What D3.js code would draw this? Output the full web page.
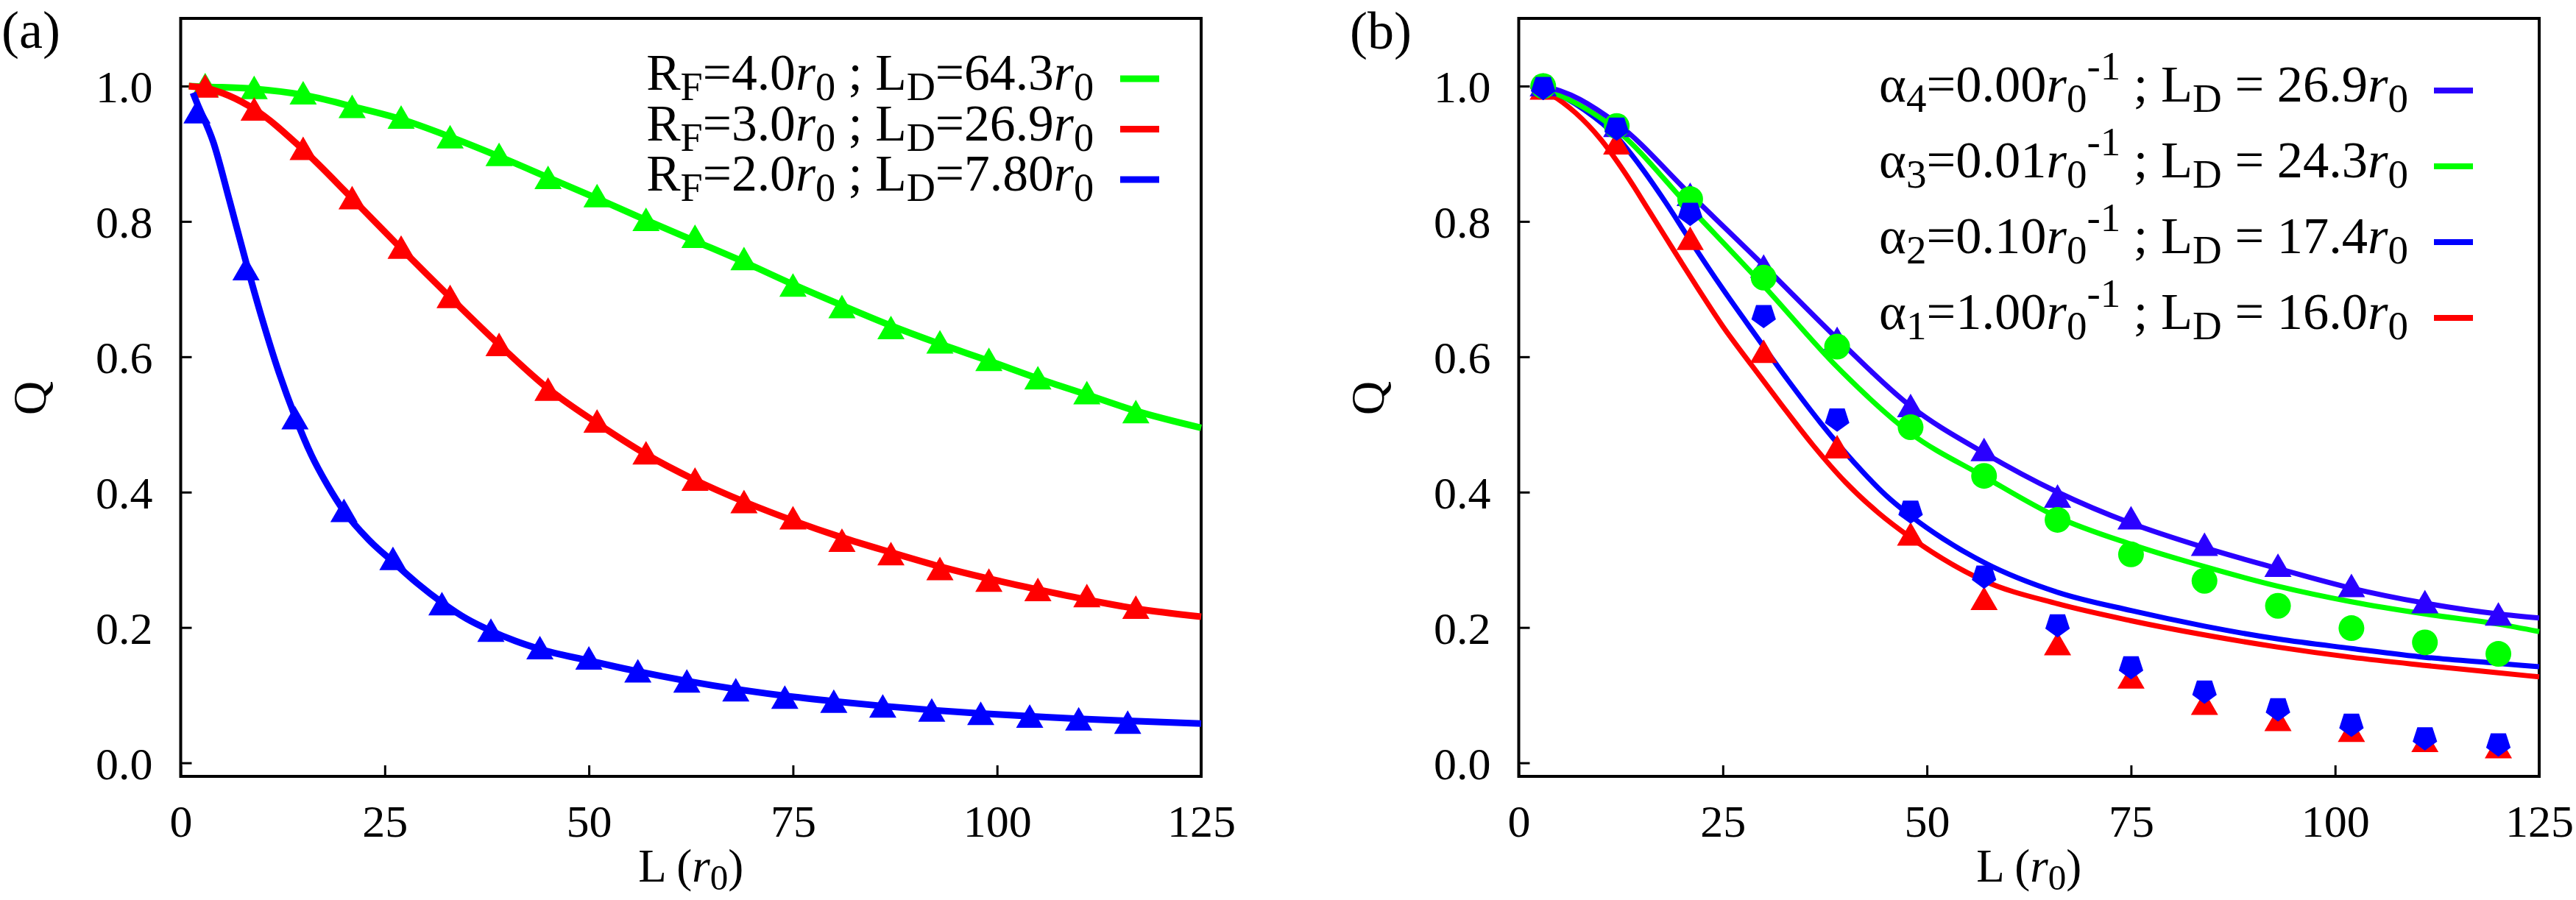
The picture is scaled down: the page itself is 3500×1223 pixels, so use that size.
<!DOCTYPE html>
<html>
<head>
<meta charset="utf-8">
<script src="https://cdn.jsdelivr.net/npm/d3@7"></script>
<style>
  body { margin: 0; background: #fff; }
  svg { display: block; }
  text { font-family: "Liberation Serif", "Times New Roman", serif; fill: #000; }
</style>
</head>
<body>
<script>
// ---- axes ----
const xTicks = [0, 25, 50, 75, 100, 125];
const yTicks = [0.0, 0.2, 0.4, 0.6, 0.8, 1.0];

// ---- panel (a): markers ----
const aL = [3, 9, 15, 21, 27, 33, 39, 45, 51, 57, 63, 69, 75, 81, 87, 93, 99, 105, 111, 117];
const aBlueL = [2, 8, 14, 20, 26, 32, 38, 44, 50, 56, 62, 68, 74, 80, 86, 92, 98, 104, 110, 116];
const aGreenQ = [1.0, 0.996, 0.988, 0.968, 0.952, 0.923, 0.897, 0.863, 0.836, 0.801, 0.776, 0.743, 0.704, 0.672, 0.641, 0.620, 0.594, 0.567, 0.545, 0.517];
const aRedQ = [0.998, 0.964, 0.906, 0.833, 0.760, 0.687, 0.616, 0.550, 0.503, 0.456, 0.417, 0.384, 0.360, 0.327, 0.307, 0.285, 0.268, 0.254, 0.245, 0.228];
const aBlueQ = [0.960, 0.728, 0.508, 0.371, 0.300, 0.233, 0.194, 0.168, 0.153, 0.134, 0.119, 0.106, 0.095, 0.089, 0.082, 0.076, 0.071, 0.067, 0.063, 0.058];

// ---- panel (a): fitted curves ----
const aFitL = [1, 3, 9, 15, 21, 27, 33, 39, 45, 51, 57, 63, 69, 75, 81, 87, 93, 99, 105, 111, 117, 125];
const aGreenFit = [1.0, 0.999, 0.996, 0.987, 0.970, 0.951, 0.925, 0.896, 0.865, 0.834, 0.802, 0.771, 0.740, 0.707, 0.676, 0.646, 0.619, 0.594, 0.568, 0.544, 0.520, 0.495];
const aRedFit = [1.0, 0.997, 0.966, 0.906, 0.834, 0.760, 0.688, 0.618, 0.553, 0.502, 0.456, 0.418, 0.386, 0.358, 0.333, 0.311, 0.290, 0.272, 0.256, 0.241, 0.228, 0.216];
const aBlueFitL = [1.5, 2, 4, 6, 8, 10, 12, 14, 16, 18, 20, 23, 26, 29, 32, 35, 38, 41, 44, 50, 56, 62, 68, 74, 80, 86, 92, 98, 104, 110, 116, 125];
const aBlueFit = [0.99, 0.975, 0.917, 0.83, 0.74, 0.655, 0.578, 0.512, 0.455, 0.41, 0.372, 0.33, 0.297, 0.265, 0.237, 0.213, 0.195, 0.18, 0.168, 0.151, 0.135, 0.121, 0.109, 0.099, 0.091, 0.084, 0.078, 0.073, 0.069, 0.065, 0.062, 0.058];

// ---- panel (b): markers ----
const bL = [3, 12, 21, 30, 39, 48, 57, 66, 75, 84, 93, 102, 111, 120];
const bA4Q = [1.0, 0.940, 0.838, 0.732, 0.625, 0.526, 0.461, 0.392, 0.360, 0.321, 0.290, 0.260, 0.236, 0.218];
const bA3Q = [1.0, 0.941, 0.833, 0.717, 0.615, 0.496, 0.424, 0.359, 0.308, 0.269, 0.232, 0.199, 0.178, 0.161];
const bA2Q = [0.996, 0.936, 0.810, 0.659, 0.506, 0.370, 0.274, 0.202, 0.140, 0.104, 0.078, 0.055, 0.035, 0.026];
const bA1Q = [0.995, 0.914, 0.773, 0.606, 0.465, 0.336, 0.241, 0.174, 0.125, 0.086, 0.062, 0.046, 0.031, 0.022];

// ---- panel (b): fitted curves ----
const bA4FitL = [2, 3, 12, 21, 30, 39, 48, 57, 66, 75, 84, 93, 102, 111, 120, 125];
const bA4Fit = [1.0, 0.999, 0.945, 0.840, 0.735, 0.627, 0.527, 0.458, 0.400, 0.354, 0.318, 0.287, 0.258, 0.236, 0.220, 0.214];
const bA3FitL = [2, 3, 12, 21, 30, 39, 48, 57, 66, 75, 84, 93, 102, 111, 120, 125];
const bA3Fit = [1.0, 0.996, 0.935, 0.820, 0.705, 0.585, 0.487, 0.423, 0.363, 0.323, 0.290, 0.261, 0.238, 0.220, 0.205, 0.194];
const bA2FitL = [1.5, 4, 8, 12, 15, 18, 21, 25, 29, 33, 37, 41, 45, 48, 52, 57, 66, 75, 84, 93, 102, 111, 120, 125];
const bA2Fit = [1.0, 0.992, 0.965, 0.925, 0.880, 0.828, 0.772, 0.700, 0.632, 0.565, 0.502, 0.445, 0.395, 0.365, 0.331, 0.296, 0.252, 0.225, 0.202, 0.183, 0.169, 0.156, 0.147, 0.142];
const bA1FitL = [1.5, 4, 7, 10, 13, 16, 19, 22, 25, 28.5, 32, 36, 40, 44, 48, 57, 66, 75, 84, 93, 102, 111, 120, 125];
const bA1Fit = [1.0, 0.987, 0.960, 0.922, 0.872, 0.815, 0.757, 0.700, 0.645, 0.588, 0.532, 0.470, 0.415, 0.370, 0.333, 0.269, 0.235, 0.210, 0.189, 0.171, 0.156, 0.144, 0.133, 0.127];

// ---- legend labels ----
const aLegend = [
  [["R"], ["F", "sub"], ["=4.0"], ["r", "it"], ["0", "sub"], [" ; L"], ["D", "sub"], ["=64.3"], ["r", "it"], ["0", "sub"]],
  [["R"], ["F", "sub"], ["=3.0"], ["r", "it"], ["0", "sub"], [" ; L"], ["D", "sub"], ["=26.9"], ["r", "it"], ["0", "sub"]],
  [["R"], ["F", "sub"], ["=2.0"], ["r", "it"], ["0", "sub"], [" ; L"], ["D", "sub"], ["=7.80"], ["r", "it"], ["0", "sub"]]
];
const bLegend = [
  [["α"], ["4", "sub"], ["=0.00"], ["r", "it"], ["0", "sub"], ["-1", "sup"], [" ; L"], ["D", "sub"], [" = 26.9"], ["r", "it"], ["0", "sub"]],
  [["α"], ["3", "sub"], ["=0.01"], ["r", "it"], ["0", "sub"], ["-1", "sup"], [" ; L"], ["D", "sub"], [" = 24.3"], ["r", "it"], ["0", "sub"]],
  [["α"], ["2", "sub"], ["=0.10"], ["r", "it"], ["0", "sub"], ["-1", "sup"], [" ; L"], ["D", "sub"], [" = 17.4"], ["r", "it"], ["0", "sub"]],
  [["α"], ["1", "sub"], ["=1.00"], ["r", "it"], ["0", "sub"], ["-1", "sup"], [" ; L"], ["D", "sub"], [" = 16.0"], ["r", "it"], ["0", "sub"]]
];

const GREEN = "#00ff00", RED = "#ff0000", BLUE = "#0000ff", VIOLET = "#2a00ff";

const svg = d3.select("body").append("svg")
  .attr("width", 3500)
  .attr("height", 1223)
  .attr("viewBox", [0, 0, 3500, 1223]);

// writes sub/superscripted pieces into a text element
function richText(text, parts, subShift = 14) {
  let shift = 0;
  parts.forEach(([t, kind]) => {
    const target = kind === "sub" ? subShift : kind === "sup" ? -30 : 0;
    const ts = text.append("tspan").attr("dy", target - shift).text(t);
    shift = target;
    if (kind === "sub" || kind === "sup") ts.attr("font-size", "0.78em");
    if (kind === "it") ts.attr("font-style", "italic");
  });
}

const triangle = "M0,-18L18.5,14L-18.5,14Z";
const pentagon = (() => {
  const r = 17.5, pts = [];
  for (let k = 0; k < 5; k++) {
    const a = Math.PI / 2 + k * 2 * Math.PI / 5;
    pts.push([r * Math.cos(a), r * Math.sin(a) - 2]);
  }
  return "M" + pts.join("L") + "Z";
})();

function makePanel(left) {
  const x = d3.scaleLinear([0, 125], [left, left + 1386.5]);
  const y = d3.scaleLinear([-0.02, 1.1], [1055, 25]);
  const g = svg.append("g");

  g.append("g")
    .attr("transform", `translate(0,${y(-0.02)})`)
    .call(d3.axisBottom(x).tickValues(xTicks).tickSize(-15).tickSizeOuter(0).tickFormat(d3.format("d")))
    .call(a => a.select(".domain").remove())
    .call(a => a.selectAll("line").attr("stroke", "#000").attr("stroke-width", 3))
    .call(a => a.selectAll("text").attr("y", 82).attr("dy", null)
      .attr("font-size", 62).attr("font-family", null).attr("fill", "#000"));

  g.append("g")
    .attr("transform", `translate(${x(0)},0)`)
    .call(d3.axisLeft(y).tickValues(yTicks).tickSize(-15).tickSizeOuter(0).tickFormat(d3.format(".1f")))
    .call(a => a.select(".domain").remove())
    .call(a => a.selectAll("line").attr("stroke", "#000").attr("stroke-width", 3))
    .call(a => a.selectAll("text").attr("x", -38).attr("dy", 22)
      .attr("font-size", 62).attr("font-family", null).attr("fill", "#000"));

  g.append("rect")
    .attr("x", x(0)).attr("y", y(1.1))
    .attr("width", x(125) - x(0)).attr("height", y(-0.02) - y(1.1))
    .attr("fill", "none").attr("stroke", "#000").attr("stroke-width", 4);

  const title = g.append("text")
    .attr("x", (x(0) + x(125)) / 2).attr("y", 1198)
    .attr("text-anchor", "middle").attr("font-size", 63);
  richText(title, [["L ("], ["r", "it"], ["0", "sub"], [")"]], 11);

  g.append("text")
    .attr("transform", `translate(${x(0) - 184},541) rotate(-90)`)
    .attr("text-anchor", "middle").attr("font-size", 64)
    .text("Q");

  const plot = g.append("g");
  return {x, y, g, plot};
}

function drawCurve(p, Ls, Qs, color, w) {
  const line = d3.line().x(d => p.x(d[0])).y(d => p.y(d[1])).curve(d3.curveMonotoneX);
  p.plot.append("path")
    .attr("d", line(d3.zip(Ls, Qs)))
    .attr("fill", "none").attr("stroke", color)
    .attr("stroke-width", w).attr("stroke-linejoin", "round");
}

function drawMarks(p, Ls, Qs, color, shape) {
  const sel = p.plot.append("g").selectAll("path")
    .data(d3.zip(Ls, Qs))
    .join("path")
    .attr("transform", d => `translate(${p.x(d[0])},${p.y(d[1])})`)
    .attr("fill", color);
  if (shape === "circle") sel.attr("d", d3.arc()({innerRadius: 0, outerRadius: 17.5, startAngle: 0, endAngle: 2 * Math.PI}));
  else if (shape === "pentagon") sel.attr("d", pentagon);
  else sel.attr("d", triangle);
}

// legend rows; font size is tuned so each row spans the width it has in the figure
function drawLegend(p, labels, colors, textStart, textEnd, lineX0, firstBase, step, lw) {
  labels.forEach((parts, i) => {
    const base = firstBase + i * step;
    const t = p.g.append("text")
      .attr("x", textEnd).attr("y", base)
      .attr("text-anchor", "end").attr("font-size", 67);
    richText(t, parts);
    const w = t.node().getComputedTextLength();
    if (i === 0 && w > 0) p.legendSize = 67 * (textEnd - textStart) / w;
    if (p.legendSize) t.attr("font-size", p.legendSize);
    p.g.append("line")
      .attr("x1", lineX0).attr("x2", lineX0 + 53)
      .attr("y1", base - 15).attr("y2", base - 15)
      .attr("stroke", colors[i]).attr("stroke-width", lw);
  });
}

// ---- panel (a) ----
const pa = makePanel(245.5);
drawCurve(pa, aFitL, aGreenFit, GREEN, 9);
drawMarks(pa, aL, aGreenQ, GREEN, "triangle");
drawCurve(pa, aFitL, aRedFit, RED, 9);
drawMarks(pa, aL, aRedQ, RED, "triangle");
drawCurve(pa, aBlueFitL, aBlueFit, BLUE, 9);
drawMarks(pa, aBlueL, aBlueQ, BLUE, "triangle");
drawLegend(pa, aLegend, [GREEN, RED, BLUE], 878, 1486, 1522, 122, 68.5, 9);
svg.append("text").attr("x", 2).attr("y", 65).attr("font-size", 72).text("(a)");

// ---- panel (b) ----
const pb = makePanel(2063.5);
drawCurve(pb, bA1FitL, bA1Fit, RED, 7);
drawCurve(pb, bA2FitL, bA2Fit, BLUE, 7);
drawCurve(pb, bA3FitL, bA3Fit, GREEN, 7);
drawCurve(pb, bA4FitL, bA4Fit, VIOLET, 7);
drawMarks(pb, bL, bA1Q, RED, "triangle");
drawMarks(pb, bL, bA4Q, VIOLET, "triangle");
drawMarks(pb, bL, bA3Q, GREEN, "circle");
drawMarks(pb, bL, bA2Q, BLUE, "pentagon");
drawLegend(pb, bLegend, [VIOLET, GREEN, BLUE, RED], 2553, 3272, 3307, 138, 103, 8);
svg.append("text").attr("x", 1834).attr("y", 66).attr("font-size", 72).text("(b)");
</script>
</body>
</html>
